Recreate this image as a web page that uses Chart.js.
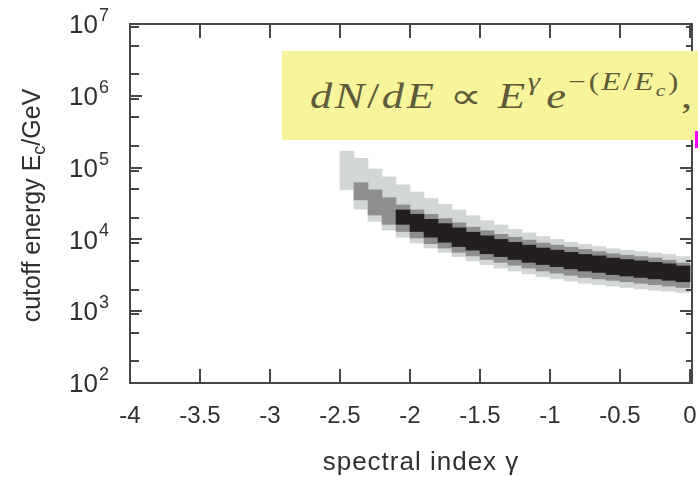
<!DOCTYPE html>
<html>
<head>
<meta charset="utf-8">
<script src="https://cdn.jsdelivr.net/npm/chart.js@4.4.1/dist/chart.umd.min.js"></script>
<style>
html, body { margin: 0; padding: 0; background: #fff; }
#wrap { position: relative; width: 698px; height: 477px; overflow: hidden; }
#formula {
    position: absolute; left: 282px; top: 51px; width: 420px; height: 89px;
    background: #f8f49c;
}
#formula .eq {
    position: absolute; left: 28px; top: 28px; white-space: nowrap;
    font-family: "Liberation Serif", "Times New Roman", serif;
    font-size: 35px; line-height: 35px; color: #5e5a3a; letter-spacing: 2px;
    transform: scaleX(1.27); transform-origin: 0 0;
}
#formula sup { font-size: 0.7em; position: relative; top: -0.72em; vertical-align: baseline; }
#formula sub { font-size: 0.7em; position: relative; top: 0.3em; vertical-align: baseline; }
#formula .sp { margin-left: 3px; }
#mark { position: absolute; left: 695px; top: 131px; width: 3px; height: 17px; background: #ff00ff; }
</style>
</head>
<body>
<div id="wrap">
    <canvas id="chart" width="698" height="477"></canvas>
    <div id="formula"><div class="eq"><i>dN</i>/<i>dE</i> &#x221D; <i>E</i><sup><i>&#x3B3;</i></sup><i class="sp">e</i><sup>&#x2212;(<i>E</i>/<i>E</i><sub><i>c</i></sub>)</sup>,</div></div>
    <div id="mark"></div>
</div>
<script>
// spectral index bins (0.1 wide), centres
const gammaBins = [-2.45, -2.35, -2.25, -2.15, -2.05, -1.95, -1.85, -1.75, -1.65, -1.55,
    -1.45, -1.35, -1.25, -1.15, -1.05, -0.95, -0.85, -0.75, -0.65, -0.55,
    -0.45, -0.35, -0.25, -0.15, -0.05];

// log10(Ec/GeV) limits of each confidence region
const outerHi = [5.23, 5.13, 4.98, 4.87, 4.76, 4.66, 4.57, 4.49, 4.41, 4.33, 4.26, 4.20, 4.14,
    4.09, 4.04, 4.00, 3.96, 3.93, 3.90, 3.87, 3.85, 3.83, 3.81, 3.79, 3.76];
const outerLo = [4.69, 4.42, 4.25, 4.13, 4.03, 3.95, 3.88, 3.82, 3.76, 3.70, 3.65, 3.60, 3.56,
    3.52, 3.48, 3.45, 3.42, 3.39, 3.37, 3.35, 3.33, 3.31, 3.29, 3.28, 3.26];
const midHi = [null, 4.79, 4.69, 4.58, 4.48, 4.41, 4.35, 4.29, 4.23, 4.17, 4.12, 4.07, 4.03,
    3.99, 3.95, 3.92, 3.89, 3.86, 3.83, 3.80, 3.78, 3.76, 3.74, 3.71, 3.67];
const midLo = [null, 4.55, 4.34, 4.21, 4.11, 4.02, 3.94, 3.88, 3.82, 3.77, 3.72, 3.68, 3.64,
    3.60, 3.56, 3.53, 3.50, 3.47, 3.45, 3.43, 3.41, 3.39, 3.37, 3.35, 3.33];
const coreHi = [null, null, null, null, 4.41, 4.35, 4.28, 4.22, 4.16, 4.10, 4.05, 4.00, 3.96,
    3.92, 3.88, 3.85, 3.82, 3.79, 3.77, 3.74, 3.72, 3.70, 3.68, 3.66, 3.63];
const coreLo = [null, null, null, null, 4.21, 4.11, 4.03, 3.96, 3.90, 3.85, 3.80, 3.76, 3.72,
    3.68, 3.65, 3.62, 3.59, 3.56, 3.54, 3.51, 3.49, 3.47, 3.45, 3.43, 3.41];

const xTickValues = [-4, -3.5, -3, -2.5, -2, -1.5, -1, -0.5, 0];
const xTickLabels = ["-4", "-3.5", "-3", "-2.5", "-2", "-1.5", "-1", "-0.5", "0"];
const yDecades = [2, 3, 4, 5, 6, 7];
const yMinorFactors = [2, 5, 9];

const AXIS_COLOR = "#474747";
const TEXT_COLOR = "#303030";
const SANS = '"Liberation Sans", Arial, Helvetica, sans-serif';

function region(lo, hi) {
    const pts = [];
    gammaBins.forEach((g, i) => {
        if (lo[i] == null) return;
        pts.push({ x: g, y: [Math.pow(10, lo[i]), Math.pow(10, hi[i])] });
    });
    return pts;
}

function line(ctx, x1, y1, x2, y2) {
    ctx.beginPath();
    ctx.moveTo(x1, y1);
    ctx.lineTo(x2, y2);
    ctx.stroke();
}

// frame with inward ticks on all four sides, plus labels
const frameAxes = {
    id: "frameAxes",
    afterDatasetsDraw(chart) {
        const { ctx, chartArea: a, scales: { x, y } } = chart;
        ctx.save();
        ctx.strokeStyle = AXIS_COLOR;
        ctx.lineWidth = 2;
        ctx.strokeRect(a.left, a.top, a.right - a.left, a.bottom - a.top);

        xTickValues.forEach(v => {
            const px = Math.round(x.getPixelForValue(v));
            line(ctx, px, a.bottom, px, a.bottom - 14);
            line(ctx, px, a.top, px, a.top + 14);
        });
        yDecades.forEach(d => {
            const py = Math.round(y.getPixelForValue(Math.pow(10, d)));
            line(ctx, a.left, py, a.left + 12, py);
            line(ctx, a.right, py, a.right - 12, py);
            if (d === yDecades[yDecades.length - 1]) return;
            yMinorFactors.forEach(f => {
                const pm = Math.round(y.getPixelForValue(f * Math.pow(10, d)));
                line(ctx, a.left, pm, a.left + 9, pm);
                line(ctx, a.right, pm, a.right - 6, pm);
            });
        });

        ctx.fillStyle = TEXT_COLOR;
        ctx.textBaseline = "middle";

        // x tick labels
        ctx.font = "24px " + SANS;
        ctx.textAlign = "center";
        xTickLabels.forEach((t, i) => {
            ctx.fillText(t, x.getPixelForValue(xTickValues[i]), 416);
        });

        // y tick labels 10^n
        yDecades.forEach(d => {
            const py = y.getPixelForValue(Math.pow(10, d));
            ctx.font = "26px " + SANS;
            ctx.textAlign = "right";
            ctx.fillText("10", 98, py + 2);
            ctx.font = "18px " + SANS;
            ctx.textAlign = "left";
            ctx.fillText(String(d), 99, py - 8);
        });

        // axis titles
        ctx.font = "26px " + SANS;
        ctx.letterSpacing = "1px";
        ctx.textAlign = "center";
        ctx.fillText("spectral index \u03B3", (a.left + a.right) / 2 + 10, 463);
        ctx.letterSpacing = "0px";

        ctx.translate(33, (a.top + a.bottom) / 2 + 2);
        ctx.rotate(-Math.PI / 2);
        const p1 = "cutoff energy E", p2 = "c", p3 = "/GeV";
        ctx.font = "25px " + SANS;
        const w1 = ctx.measureText(p1).width, w3 = ctx.measureText(p3).width;
        ctx.font = "18px " + SANS;
        const w2 = ctx.measureText(p2).width;
        let cx = -(w1 + w2 + w3) / 2;
        ctx.textAlign = "left";
        ctx.font = "25px " + SANS;
        ctx.fillText(p1, cx, 0);
        cx += w1;
        ctx.font = "18px " + SANS;
        ctx.fillText(p2, cx, 7);
        cx += w2;
        ctx.font = "25px " + SANS;
        ctx.fillText(p3, cx, 0);
        ctx.restore();
    }
};

new Chart(document.getElementById("chart"), {
    type: "bar",
    data: {
        datasets: [
            { label: "core", data: region(coreLo, coreHi), backgroundColor: "#231f20" },
            { label: "middle", data: region(midLo, midHi), backgroundColor: "#8e8e90" },
            { label: "outer", data: region(outerLo, outerHi), backgroundColor: "#d2d6d7" }
        ]
    },
    options: {
        responsive: false,
        animation: false,
        layout: { padding: { left: 130, top: 24, right: 6, bottom: 94 } },
        datasets: {
            bar: { grouped: false, barPercentage: 1, categoryPercentage: 1, borderWidth: 0 }
        },
        plugins: { legend: { display: false }, tooltip: { enabled: false } },
        scales: {
            x: { type: "linear", display: false, min: -4, max: 2 / 140, offset: false },
            y: { type: "logarithmic", display: false, min: 1e2, max: 1e7 }
        }
    },
    plugins: [frameAxes]
});
</script>
</body>
</html>
